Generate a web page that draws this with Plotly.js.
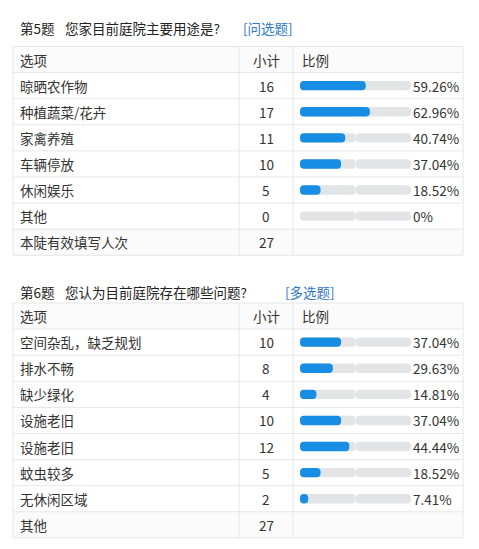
<!DOCTYPE html>
<html><head><meta charset="utf-8">
<script src="https://cdn.plot.ly/plotly-3.0.1.min.js"></script>
<style>html,body{margin:0;padding:0;background:#fff}</style>
</head><body><div id="chart" style="width:479px;height:549px"></div>
<script>
// ---- data ----
const headers = ['选项', '小计', '比例'];

const q5Number = '第5题';
const q5Question = '您家目前庭院主要用途是?';
const q5Type = '[问选题]';
const q5Options = ['晾晒农作物', '种植蔬菜/花卉', '家禽养殖', '车辆停放', '休闲娱乐', '其他'];
const q5Counts = [16, 17, 11, 10, 5, 0];
const q5Percents = [59.26, 62.96, 40.74, 37.04, 18.52, 0];
const q5TotalLabel = '本陡有效填写人次';
const q5Total = 27;

const q6Number = '第6题';
const q6Question = '您认为目前庭院存在哪些问题?';
const q6Type = '[多选题]';
const q6Options = ['空间杂乱，缺乏规划', '排水不畅', '缺少绿化', '设施老旧', '设施老旧', '蚊虫较多', '无休闲区域'];
const q6Counts = [10, 8, 4, 10, 12, 5, 2];
const q6Percents = [37.04, 29.63, 14.81, 37.04, 44.44, 18.52, 7.41];
const q6TotalLabel = '其他';
const q6Total = 27;

// ---- layout geometry (pixels) ----
const W = 479, H = 549;
const FONT = '"Noto Sans CJK SC", "Noto Sans", sans-serif';
const FS = 13.5;
const TXT = '#333333';
const LINE = '#e6e6e6';
const BLUE = '#178de3';
const TRACK = '#e3e4e6';
const px = x => x / W;
const py = y => 1 - y / H;
const X0 = 13, C1 = 239, C2 = 293, X1 = 463;
const LABEL_X = 18, COUNT_X = 266, BAR_X0 = 300, BAR_X1 = 411;
const ROWH = 26.1;

const tables = [
  {num: q5Number, q: q5Question, type: q5Type, typeX: 241, titleY: 28, top: 46.5,
   opts: q5Options, counts: q5Counts, pcts: q5Percents, totLabel: q5TotalLabel, tot: q5Total},
  {num: q6Number, q: q6Question, type: q6Type, typeX: 283, titleY: 292, top: 303,
   opts: q6Options, counts: q6Counts, pcts: q6Percents, totLabel: q6TotalLabel, tot: q6Total}
];

const traces = [];
const shapes = [];
const annotations = [];
const layout = {
  width: W, height: H,
  margin: {l: 0, r: 0, t: 0, b: 0},
  paper_bgcolor: '#ffffff', plot_bgcolor: 'rgba(0,0,0,0)',
  showlegend: false, hovermode: false,
  barmode: 'overlay',
  font: {family: FONT, size: FS, color: TXT},
  xaxis: {domain: [px(BAR_X0), px(BAR_X1)], range: [0, 100], visible: false, fixedrange: true, anchor: 'y'},
  shapes: shapes, annotations: annotations
};

function txt(text, x, y, xanchor, extra) {
  return Object.assign({text: text, x: x, y: y, xref: 'paper', yref: 'paper',
    xanchor: xanchor, yanchor: 'middle', showarrow: false,
    font: {family: FONT, size: FS, color: TXT}}, extra || {});
}

tables.forEach((t, ti) => {
  const yName = ti === 0 ? 'y' : 'y2';
  const axKey = ti === 0 ? 'yaxis' : 'yaxis2';
  const n = t.opts.length;
  const nRows = n + 2;
  const bottom = t.top + nRows * ROWH;
  const idx = t.opts.map((_, i) => i);

  layout[axKey] = {
    domain: [py(t.top + (n + 1) * ROWH), py(t.top + ROWH)],
    range: [n - 0.5, -0.5], visible: false, fixedrange: true, anchor: 'x'
  };

  // backgrounds for header & total row
  shapes.push({type: 'rect', xref: 'paper', yref: 'paper', layer: 'below',
    x0: px(X0), x1: px(X1), y0: py(t.top), y1: py(t.top + ROWH), fillcolor: '#fbfbfb', line: {width: 0}});
  shapes.push({type: 'rect', xref: 'paper', yref: 'paper', layer: 'below',
    x0: px(X0), x1: px(X1), y0: py(bottom - ROWH), y1: py(bottom), fillcolor: '#fbfbfb', line: {width: 0}});

  // horizontal lines
  for (let r = 0; r <= nRows; r++) {
    const yy = t.top + r * ROWH;
    shapes.push({type: 'line', xref: 'paper', yref: 'paper', x0: px(X0), x1: px(X1),
      y0: py(yy), y1: py(yy), line: {color: LINE, width: 1}});
  }
  // vertical lines
  [X0, C1, C2, X1].forEach(xx => {
    shapes.push({type: 'line', xref: 'paper', yref: 'paper', x0: px(xx), x1: px(xx),
      y0: py(t.top), y1: py(bottom), line: {color: LINE, width: 1}});
  });

  // title
  annotations.push(txt(t.num, px(LABEL_X), py(t.titleY), 'left', {font: {family: FONT, size: FS, color: '#222'}}));
  annotations.push(txt(t.q, px(63), py(t.titleY), 'left', {font: {family: FONT, size: FS, color: '#222'}}));
  annotations.push(txt(t.type, px(t.typeX), py(t.titleY), 'left', {font: {family: FONT, size: FS, color: '#2f78c8'}}));

  // header
  const hy = py(t.top + ROWH / 2);
  annotations.push(txt(headers[0], px(LABEL_X), hy, 'left'));
  annotations.push(txt(headers[1], px(COUNT_X), hy, 'center'));
  annotations.push(txt(headers[2], px(BAR_X0), hy, 'left'));

  // option rows
  t.opts.forEach((o, i) => {
    annotations.push(txt(o, px(LABEL_X), i, 'left', {yref: yName}));
    annotations.push(txt(String(t.counts[i]), px(COUNT_X), i, 'center', {yref: yName}));
    const p = t.pcts[i];
    annotations.push(txt(p === 0 ? '0%' : p.toFixed(2) + '%', 100, i, 'left',
      {xref: 'x', yref: yName, xshift: 0}));
  });

  // total row
  const ty = py(bottom - ROWH / 2);
  annotations.push(txt(t.totLabel, px(LABEL_X), ty, 'left'));
  annotations.push(txt(String(t.tot), px(COUNT_X), ty, 'center'));

  // track (two halves so both ends get rounded)
  const common = {type: 'bar', orientation: 'h', yaxis: yName, xaxis: 'x', width: 0.36,
    hoverinfo: 'skip'};
  traces.push(Object.assign({}, common, {y: idx, x: idx.map(() => -50), base: idx.map(() => 50),
    marker: {color: TRACK, cornerradius: 4.5, line: {width: 0}}}));
  traces.push(Object.assign({}, common, {y: idx, x: idx.map(() => 50), base: idx.map(() => 50),
    marker: {color: TRACK, cornerradius: 4.5, line: {width: 0}}}));
  // value bars drawn from value back to 0 so the left end is rounded
  traces.push(Object.assign({}, common, {y: idx, x: t.pcts.map(v => -v), base: t.pcts,
    marker: {color: BLUE, cornerradius: 4.5, line: {width: 0}}}));
});

Plotly.newPlot('chart', traces, layout, {displayModeBar: false, staticPlot: true});
</script>
</body></html>
